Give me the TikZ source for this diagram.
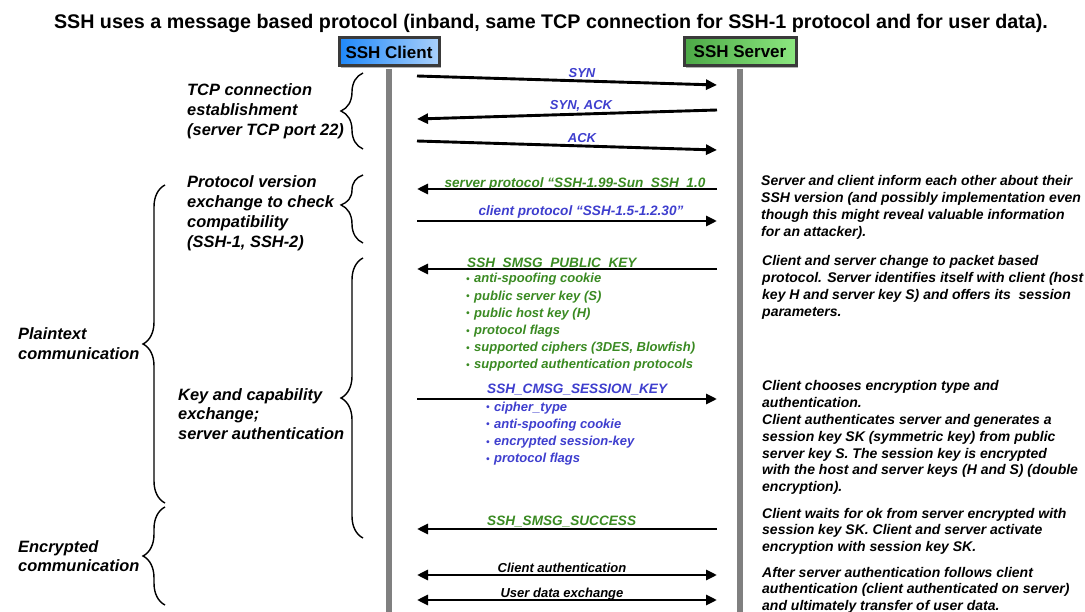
\documentclass[tikz,border=0pt]{standalone}
\usepackage{fontspec}
\setmainfont{Liberation Sans}
\usetikzlibrary{arrows.meta,decorations.pathreplacing,shadows}

\definecolor{msgblue}{RGB}{62,62,206}
\definecolor{msggreen}{RGB}{58,138,34}
\definecolor{lifegray}{RGB}{128,128,128}
\definecolor{boxrim}{RGB}{58,58,58}
\definecolor{clientA}{RGB}{30,136,250}
\definecolor{clientB}{RGB}{170,208,250}
\definecolor{serverA}{RGB}{76,168,70}
\definecolor{serverB}{RGB}{140,232,128}

% multi-line text whose baseline is that of its first line
\newcommand{\txtlines}[1]{\begin{tabular}[t]{@{}l@{}}#1\end{tabular}}
\newcommand{\bul}{\makebox[8pt][l]{\raisebox{0.4pt}{\fontsize{10}{10}\selectfont\textbullet}}}

\begin{document}
\begin{tikzpicture}[x=1pt,y=1pt,
  actor/.style={draw=boxrim, line width=3pt, minimum height=28pt, inner sep=2pt,
    font=\fontsize{17}{17}\selectfont\bfseries, drop shadow={shadow xshift=2pt,shadow yshift=-2pt,fill=black!60}},
  lifeline/.style={draw=lifegray, line width=6pt},
  msg/.style={line width=2.9pt, -{Triangle[length=11pt,width=10pt]}},
  twoway/.style={line width=2.9pt, {Triangle[length=11pt,width=10pt]}-{Triangle[length=11pt,width=10pt]}},
  lbl/.style={font=\fontsize{13}{17.2}\selectfont\bfseries\itshape, inner sep=0pt},
  hlbl/.style={lbl, font=\fontsize{13.6}{17.2}\selectfont\bfseries\itshape},
  phase/.style={font=\fontsize{16.4}{19.7}\selectfont\bfseries\itshape, inner sep=0pt, anchor=base west},
  note/.style={font=\fontsize{14}{16.8}\selectfont\bfseries\itshape, inner sep=0pt, anchor=base west},
  curly/.style={decorate, decoration={brace, amplitude=22pt}, line width=1.4pt},
]
\useasboundingbox (0,0) rectangle (1085,-612);

% title
\node[font=\fontsize{19.7}{22}\selectfont\bfseries, anchor=base, inner sep=0pt] (title) at (551,-29)
  {SSH uses a message based protocol (inband, same TCP connection for SSH-1 protocol and for user data).};

% actors and lifelines
\coordinate (cbot) at (389,-612);
\coordinate (sbot) at (740,-612);
\node[actor, minimum width=100pt, left color=clientA, right color=clientB] (client) at (389,-52) {SSH Client};
\node[actor, minimum width=112pt, left color=serverA, right color=serverB] (server) at (740,-52) {SSH Server};
\draw[lifeline] (client.south) ++(0,-1.5) -- (cbot);
\draw[lifeline] (server.south) ++(0,-1.5) -- (sbot);

% message end points
\coordinate (m1c) at (417,-76);  \coordinate (m1s) at (717,-85);
\coordinate (m2s) at (717,-110); \coordinate (m2c) at (417,-119);
\coordinate (m3c) at (417,-141); \coordinate (m3s) at (717,-150);
\coordinate (m4s) at (717,-189); \coordinate (m4c) at (417,-189);
\coordinate (m5c) at (417,-221); \coordinate (m5s) at (717,-221);
\coordinate (m6s) at (717,-269); \coordinate (m6c) at (417,-269);
\coordinate (m7c) at (417,-399); \coordinate (m7s) at (717,-399);
\coordinate (m8s) at (717,-529); \coordinate (m8c) at (417,-529);
\coordinate (m9c) at (417,-575); \coordinate (m9s) at (717,-575);
\coordinate (m10c) at (417,-600); \coordinate (m10s) at (717,-600);

% message labels
\node[lbl, anchor=base, text=msgblue] (l1) at (582,-78) {SYN};
\node[lbl, anchor=base, text=msgblue] (l2) at (581,-110) {SYN, ACK};
\node[lbl, anchor=base, text=msgblue] (l3) at (582,-143) {ACK};
\node[hlbl, anchor=base, text=msggreen] (l4) at (575,-187.5) {server protocol “SSH-1.99-Sun\_SSH\_1.0};
\node[hlbl, anchor=base, text=msgblue] (l5) at (581,-216) {client protocol “SSH-1.5-1.2.30”};
\node[hlbl, anchor=base west, text=msggreen] (l6) at (467,-267.5) {SSH\_SMSG\_PUBLIC\_KEY};
\node[lbl, anchor=base west, text=msggreen] (l6list) at (466,-283) {\txtlines{%
  \bul anti-spoofing cookie\\
  \bul public server key (S)\\
  \bul public host key (H)\\
  \bul protocol flags\\
  \bul supported ciphers (3DES, Blowfish)\\
  \bul supported authentication protocols}};
\node[hlbl, anchor=base west, text=msgblue] (l7) at (487,-394) {SSH\_CMSG\_SESSION\_KEY};
\node[lbl, anchor=base west, text=msgblue] (l7list) at (486,-411) {\txtlines{%
  \bul cipher\_type\\
  \bul anti-spoofing cookie\\
  \bul encrypted session-key\\
  \bul protocol flags}};
\node[hlbl, anchor=base west, text=msggreen] (l8) at (487,-525) {SSH\_SMSG\_SUCCESS};
\node[lbl, anchor=base] (l9) at (562,-572.5) {Client authentication};
\node[lbl, anchor=base] (l10) at (562,-597.5) {User data exchange};

% messages
\draw[msg] (m1c) -- (m1s);
\draw[msg] (m2s) -- (m2c);
\draw[msg] (m3c) -- (m3s);
\draw[msg] (m4s) -- (m4c);
\draw[msg] (m5c) -- (m5s);
\draw[msg] (m6s) -- (m6c);
\draw[msg] (m7c) -- (m7s);
\draw[msg] (m8s) -- (m8c);
\draw[twoway] (m9c) -- (m9s);
\draw[twoway] (m10c) -- (m10s);

% phases on the left
\node[phase] (p1) at (187,-96) {\txtlines{TCP connection\\ establishment\\ (server TCP port 22)}};
\node[phase] (p2) at (187,-188) {\txtlines{Protocol version\\ exchange to check\\ compatibility\\ (SSH-1, SSH-2)}};
\node[phase] (p3) at (178,-400) {\txtlines{Key and capability\\ exchange;\\ server authentication}};
\node[phase] (p4) at (18,-340) {\txtlines{Plaintext\\ communication}};
\node[phase] (p5) at (18,-552) {\txtlines{Encrypted\\ communication}};

\coordinate (b1a) at (363,-149); \coordinate (b1b) at (363,-73);
\coordinate (b2a) at (363,-243); \coordinate (b2b) at (363,-175);
\coordinate (b3a) at (363,-538); \coordinate (b3b) at (363,-258);
\coordinate (b4a) at (165,-503); \coordinate (b4b) at (165,-185);
\coordinate (b5a) at (165,-605); \coordinate (b5b) at (165,-507);
\draw[curly] (b1a) -- (b1b);
\draw[curly, decoration={aspect=0.56}] (b2a) -- (b2b);
\draw[curly] (b3a) -- (b3b);
\draw[curly] (b4a) -- (b4b);
\draw[curly] (b5a) -- (b5b);

% explanations on the right
\node[note] (n1) at (761,-186) {\txtlines{Server and client inform each other about their\\
  SSH version (and possibly implementation even\\
  though this might reveal valuable information\\
  for an attacker).}};
\node[note] (n2) at (762,-266) {\txtlines{Client and server change to packet based\\
  protocol. Server identifies itself with client (host\\
  key H and server key S) and offers its\ \ session\\
  parameters.}};
\node[note] (n3) at (762,-391) {\txtlines{Client chooses encryption type and\\
  authentication.\\
  Client authenticates server and generates a\\
  session key SK (symmetric key) from public\\
  server key S. The session key is encrypted\\
  with the host and server keys (H and S) (double\\
  encryption).}};
\node[note] (n4) at (762,-518) {\txtlines{Client waits for ok from server encrypted with\\
  session key SK. Client and server activate\\
  encryption with session key SK.}};
\node[note] (n5) at (762,-577) {\txtlines{After server authentication follows client\\
  authentication (client authenticated on server)\\
  and ultimately transfer of user data.}};
\end{tikzpicture}
\end{document}
